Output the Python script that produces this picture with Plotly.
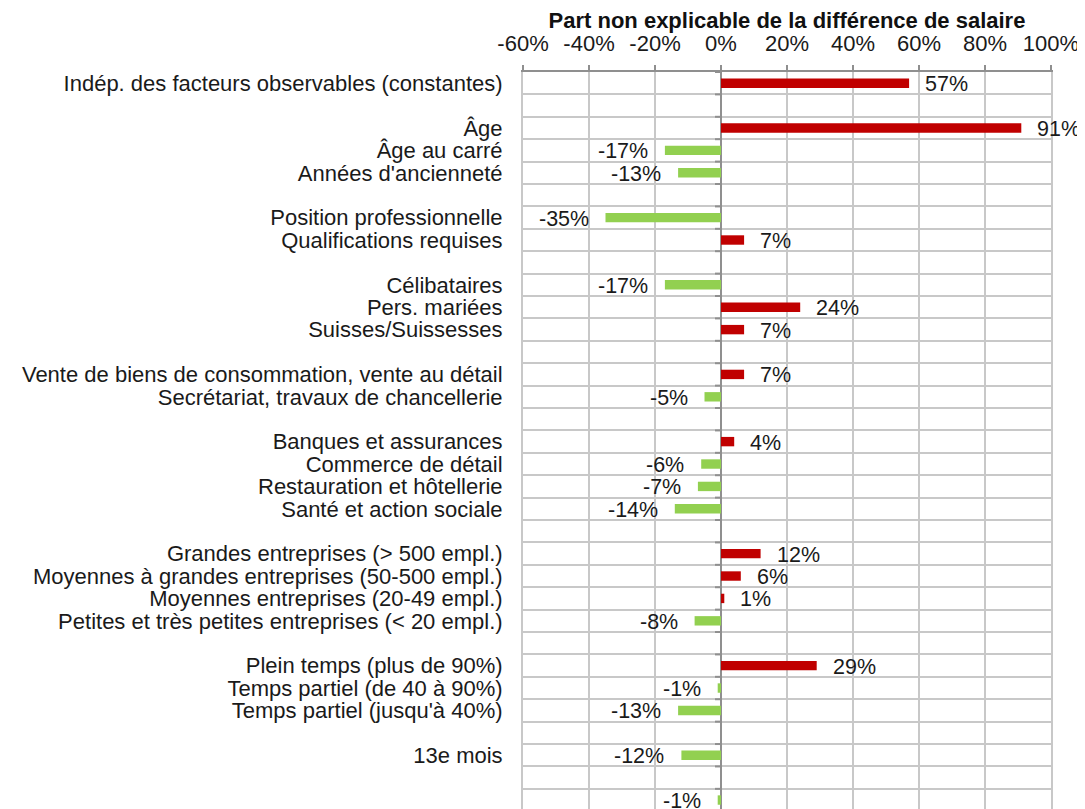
import plotly.graph_objects as go

categories = [
    "Indép. des facteurs observables (constantes)", "",
    "Âge", "Âge au carré", "Années d'ancienneté", "",
    "Position professionnelle", "Qualifications requises", "",
    "Célibataires", "Pers. mariées", "Suisses/Suissesses", "",
    "Vente de biens de consommation, vente au détail", "Secrétariat, travaux de chancellerie", "",
    "Banques et assurances", "Commerce de détail", "Restauration et hôtellerie", "Santé et action sociale", "",
    "Grandes entreprises (> 500 empl.)", "Moyennes à grandes entreprises (50-500 empl.)",
    "Moyennes entreprises (20-49 empl.)", "Petites et très petites entreprises (< 20 empl.)", "",
    "Plein temps (plus de 90%)", "Temps partiel (de 40 à 90%)", "Temps partiel (jusqu'à 40%)", "",
    "13e mois", "",
    "Autres facteurs non mentionnés",
]
values = [
    57, None,
    91, -17, -13, None,
    -35, 7, None,
    -17, 24, 7, None,
    7, -5, None,
    4, -6, -7, -14, None,
    12, 6, 1, -8, None,
    29, -1, -13, None,
    -12, None,
    -1,
]
x_ticks = [-60, -40, -20, 0, 20, 40, 60, 80, 100]
title = "Part non explicable de la différence de salaire"

RED = "#c00000"
GREEN = "#92d050"
GRID = "#c8c8c8"
AXIS = "#8f8f8f"
FONT = "Liberation Sans"
TXT = "#1a1a1a"

ys = list(range(len(categories)))
bar_y = [y for y, v in zip(ys, values) if v is not None]
bar_x = [v for v in values if v is not None]
colors = [RED if v > 0 else GREEN for v in bar_x]
boundaries = [y - 0.5 for y in ys]

fig = go.Figure()
fig.add_trace(go.Bar(
    x=bar_x, y=bar_y, orientation="h", width=0.42,
    marker=dict(color=colors, line=dict(width=0)),
    hoverinfo="skip",
))

for y, v in zip(bar_y, bar_x):
    fig.add_annotation(
        x=v, y=y, text=f"{v}%", showarrow=False,
        xanchor="left" if v > 0 else "right",
        xshift=14 if v > 0 else -15, yshift=-1,
        font=dict(family=FONT, size=21.5, color=TXT),
    )

# small tick marks on the zero line at row boundaries
for b in boundaries:
    fig.add_shape(type="line", xref="x", yref="y", xsizemode="pixel", xanchor=0,
                  x0=-6, x1=0, y0=b, y1=b, line=dict(color=AXIS, width=2), layer="above")

# the page body has an 8px default margin, so the figure is 8px smaller
fig.update_layout(
    width=1077, height=801,
    margin=dict(l=515, r=34, t=64, b=0),
    paper_bgcolor="white", plot_bgcolor="white",
    showlegend=False,
    font=dict(family=FONT, color=TXT),
    xaxis=dict(
        side="top", range=[-60, 100], tickvals=x_ticks,
        ticktext=[f"{t}%" for t in x_ticks],
        tickfont=dict(family=FONT, size=22, color=TXT),
        showgrid=True, gridcolor=GRID, gridwidth=2,
        showline=True, linecolor=AXIS, linewidth=2,
        ticks="outside", ticklen=5, tickcolor=AXIS, tickwidth=2,
        ticklabelstandoff=5,
        zeroline=True, zerolinecolor=AXIS, zerolinewidth=2,
        automargin=False,
        title=dict(text=f"<b>{title}</b>", font=dict(family=FONT, size=22, color="#111"), standoff=0),
    ),
    yaxis=dict(
        range=[32.4, -0.5], tickvals=ys, ticktext=categories,
        tickfont=dict(family=FONT, size=22, color=TXT),
        showgrid=False, zeroline=False,
        showline=True, linecolor=GRID, linewidth=2, mirror=True,
        ticks="", ticklabelstandoff=14, automargin=False,
        minor=dict(tickvals=boundaries[1:], showgrid=True,
                   gridcolor=GRID, gridwidth=2, ticks=""),
    ),
)

fig.write_html("out.html")
